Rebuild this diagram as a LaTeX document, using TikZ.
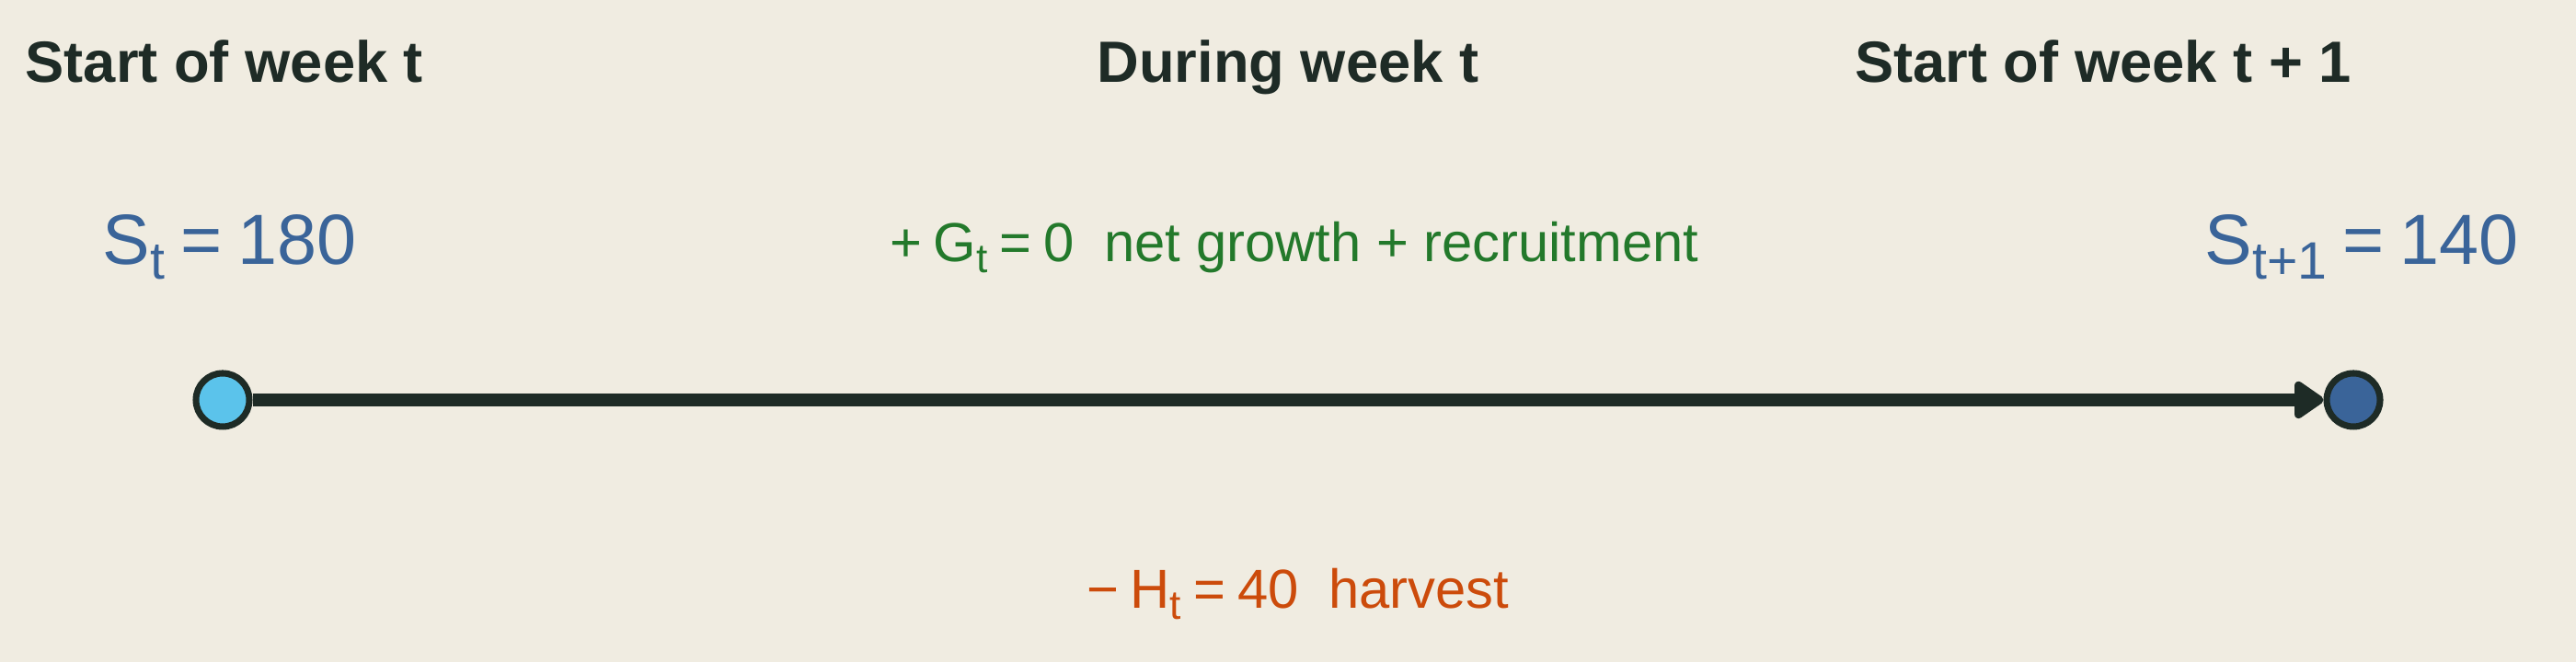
\documentclass[tikz,border=0pt]{standalone}
\usepackage{fontspec}
\setmainfont{Liberation Sans}
\usepackage{tikz}
\usetikzlibrary{arrows.meta}
\definecolor{paper}{HTML}{F0ECE1}
\definecolor{ink}{HTML}{1E2B26}
\definecolor{stockblue}{HTML}{3A6499}
\definecolor{skyblue}{HTML}{5BC3EB}
\definecolor{growgreen}{HTML}{23792B}
\definecolor{harvestred}{HTML}{CC4B0B}
\newcommand{\ringwidth}{2pt}
\newcommand{\dotsize}{0.58cm}
\newcommand{\lowt}[1]{\raisebox{-0.2em}{\scalebox{0.74}{#1}}}
\newcommand{\eqs}{\hspace{0.22em}=\hspace{0.22em}}

\tikzset{
  heading/.style={font=\fontsize{18}{20}\selectfont\bfseries, text=ink, inner sep=0pt, anchor=base},
  stock/.style={font=\fontsize{22}{24}\selectfont, text=stockblue, inner sep=0pt, anchor=base west},
  flow/.style={font=\fontsize{17}{19}\selectfont, inner sep=0pt, anchor=base west},
  dot/.style={circle, draw=ink, line width=\ringwidth, minimum size=\dotsize, inner sep=0pt}
}

\begin{document}
\begin{tikzpicture}
\fill[paper] (0,0) rectangle (28,7.2);
\useasboundingbox (0,0) rectangle (28,7.2);
%Headings
\node[heading, anchor=base west] (start) at (0.27,6.30) {Start of week t};
\node[heading] (during) at (14.00,6.30) {During week t};
\node[heading] (next) at (22.86,6.30) {Start of week t + 1};
%Stocks
\node[stock] (stocknow) at (1.11,4.32) {S\lowt{t}\eqs 180};
\node[stock] (stocknext) at (23.96,4.32) {S\lowt{t+1}\eqs 140};
%Flows
\node[flow, text=growgreen] (growth) at (9.67,4.35) {+\hspace{0.2em}G\lowt{t}\eqs 0\hspace{0.55em}net growth + recruitment};
\node[flow, text=harvestred] (harvest) at (11.81,0.58) {−\hspace{0.2em}H\lowt{t}\eqs 40\hspace{0.55em}harvest};
%Timeline
\node[dot, fill=skyblue] (dotnow) at (2.42,2.85) {};
\node[dot, fill=stockblue] (dotnext) at (25.58,2.85) {};
\draw[ink, line width=4pt, -{Triangle[round, length=10pt, width=13pt]}] (dotnow) -- (dotnext);
\end{tikzpicture}
\end{document}
